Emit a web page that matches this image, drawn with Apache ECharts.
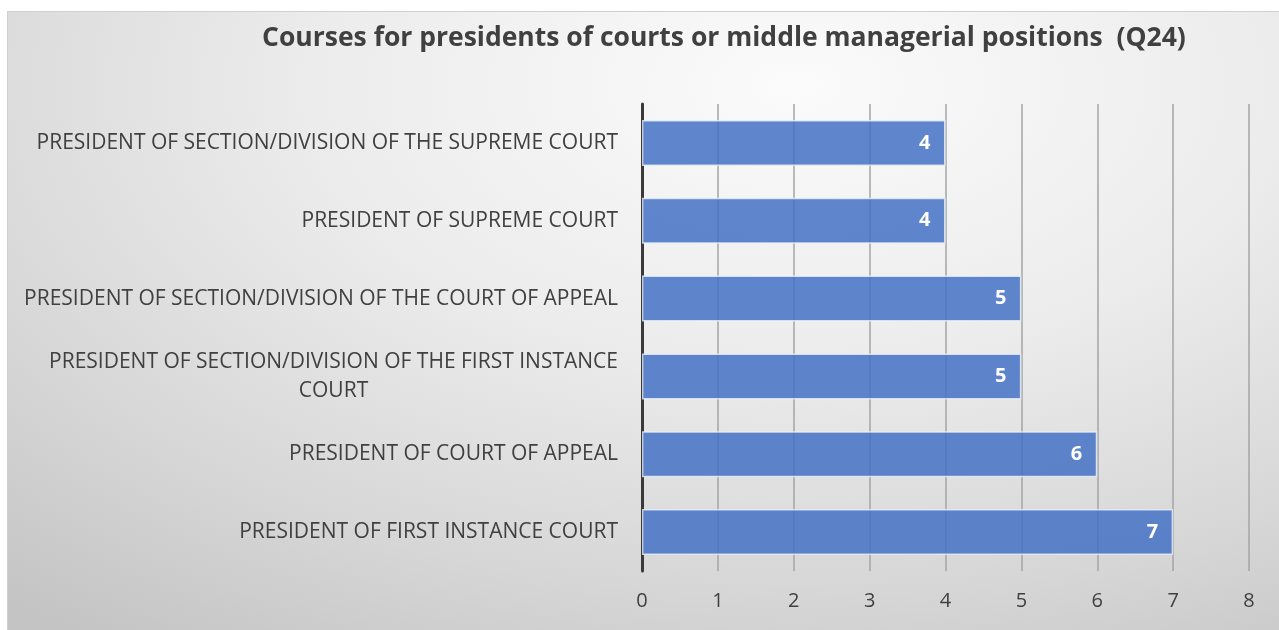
<!DOCTYPE html>
<html>
<head>
<meta charset="utf-8">
<script src="https://cdn.jsdelivr.net/npm/echarts@6/dist/echarts.min.js"></script>
<style>
  html, body { margin: 0; padding: 0; background: #ffffff; }
  #chart {
    position: absolute; left: 7px; top: 11px; width: 1272px; height: 619px;
    background: radial-gradient(ellipse 95% 110% at 62% 12%, #fbfbfb 0%, #ececec 40%, #d6d6d6 75%, #c4c4c4 100%);
    border-top: 1px solid #d0d0d0; border-left: 1px solid #d0d0d0;
    box-sizing: border-box;
  }
</style>
</head>
<body>
<div id="chart"></div>
<script>
// Responses per course type, listed bottom to top as drawn on the category axis
const categories = [
  'PRESIDENT OF FIRST INSTANCE COURT',
  'PRESIDENT OF COURT OF APPEAL',
  'PRESIDENT OF SECTION/DIVISION OF THE FIRST INSTANCE\nCOURT',
  'PRESIDENT OF SECTION/DIVISION OF THE COURT OF APPEAL',
  'PRESIDENT OF SUPREME COURT',
  'PRESIDENT OF SECTION/DIVISION OF THE SUPREME COURT'
];
const counts = [7, 6, 5, 5, 4, 4];
const xTicks = [0, 1, 2, 3, 4, 5, 6, 7, 8];
const titleText = 'Courses for presidents of courts or middle managerial positions  (Q24)';

const labelFont = '"Open Sans", "DejaVu Sans", sans-serif';
const labelSize = 21;

// width of the longest line of a wrapped label, so its lines can be centred on each other
function textWidth(str, size, weight) {
  const ctx = document.createElement('canvas').getContext('2d');
  ctx.font = (weight || 'normal') + ' ' + size + 'px "Open Sans"';
  return Math.ceil(ctx.measureText(str).width);
}

const chart = echarts.init(document.getElementById('chart'), null, { renderer: 'canvas' });

chart.setOption({
  animation: false,
  title: {
    text: titleText,
    left: 249,
    top: 8,
    textStyle: { fontFamily: labelFont, fontSize: 26.5, fontWeight: 'bold', color: '#404040' }
  },
  grid: { left: 634, right: 30, top: 92, bottom: 59 },
  xAxis: {
    type: 'value',
    min: xTicks[0],
    max: xTicks[xTicks.length - 1],
    interval: 1,
    axisLine: { show: false },
    axisTick: { show: false },
    axisLabel: { color: '#404040', fontSize: 20, fontFamily: labelFont, margin: 20 },
    splitLine: { lineStyle: { color: '#a4a4a4', width: 1.5 } }
  },
  yAxis: {
    type: 'category',
    data: categories,
    axisLine: { show: true, lineStyle: { color: '#3a3a3a', width: 3 } },
    axisTick: { show: false },
    axisLabel: {
      color: '#404040', fontSize: labelSize, fontFamily: labelFont, margin: 24,
      lineHeight: 29,
      formatter: function (v) {
        if (v.indexOf('\n') < 0) return v;
        const lines = v.split('\n');
        return lines.map(l => '{c|' + l + '}').join('\n');
      },
      rich: {
        c: {
          width: textWidth('PRESIDENT OF SECTION/DIVISION OF THE FIRST INSTANCE', labelSize),
          align: 'center', fontSize: labelSize, fontFamily: labelFont, color: '#404040', lineHeight: 29
        }
      }
    }
  },
  series: [{
    type: 'bar',
    data: counts,
    barCategoryGap: '41%',
    itemStyle: {
      color: 'rgba(68, 114, 196, 0.85)',
      borderColor: 'rgba(235, 240, 250, 0.8)',
      borderWidth: 1.5
    },
    label: {
      show: true,
      position: 'insideRight',
      distance: 15,
      color: '#ffffff',
      fontFamily: labelFont,
      fontSize: 20,
      fontWeight: 'bold'
    }
  }]
});
</script>
</body>
</html>
